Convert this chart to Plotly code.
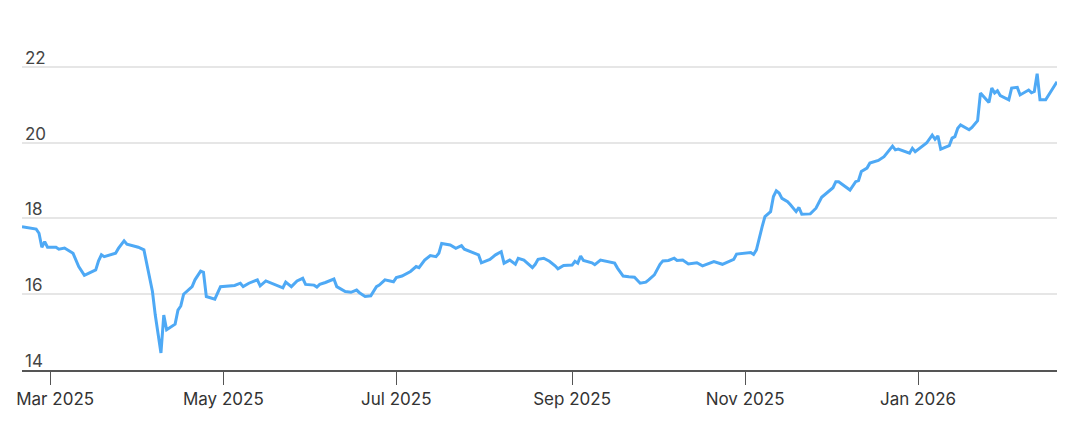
import plotly.graph_objects as go

# daily closes (Feb 2025 - Feb 2026)
dates = [
    "2025-02-19", "2025-02-24", "2025-02-25", "2025-02-26", "2025-02-27", "2025-02-28",
    "2025-03-03", "2025-03-04", "2025-03-06", "2025-03-09", "2025-03-11", "2025-03-13",
    "2025-03-17", "2025-03-18", "2025-03-19", "2025-03-20", "2025-03-24", "2025-03-25",
    "2025-03-27", "2025-03-28", "2025-04-01", "2025-04-03", "2025-04-06", "2025-04-07",
    "2025-04-09", "2025-04-10", "2025-04-11", "2025-04-14", "2025-04-15", "2025-04-16",
    "2025-04-17", "2025-04-20", "2025-04-21", "2025-04-23", "2025-04-24", "2025-04-25",
    "2025-04-28", "2025-04-30", "2025-05-05", "2025-05-07", "2025-05-08", "2025-05-10",
    "2025-05-13", "2025-05-14", "2025-05-16", "2025-05-20", "2025-05-22", "2025-05-23",
    "2025-05-25", "2025-05-27", "2025-05-29", "2025-05-30", "2025-06-02", "2025-06-03",
    "2025-06-04", "2025-06-06", "2025-06-09", "2025-06-10", "2025-06-13", "2025-06-15",
    "2025-06-17", "2025-06-18", "2025-06-20", "2025-06-22", "2025-06-24", "2025-06-25",
    "2025-06-27", "2025-06-30", "2025-07-01", "2025-07-03", "2025-07-06", "2025-07-08",
    "2025-07-09", "2025-07-11", "2025-07-13", "2025-07-15", "2025-07-16", "2025-07-17",
    "2025-07-20", "2025-07-22", "2025-07-24", "2025-07-25", "2025-07-28", "2025-07-30",
    "2025-07-31", "2025-08-03", "2025-08-05", "2025-08-07", "2025-08-08", "2025-08-10",
    "2025-08-12", "2025-08-13", "2025-08-15", "2025-08-18", "2025-08-19", "2025-08-20",
    "2025-08-22", "2025-08-24", "2025-08-26", "2025-08-27", "2025-08-29", "2025-09-01",
    "2025-09-02", "2025-09-03", "2025-09-04", "2025-09-05", "2025-09-08", "2025-09-09",
    "2025-09-11", "2025-09-14", "2025-09-16", "2025-09-17", "2025-09-19", "2025-09-21",
    "2025-09-23", "2025-09-25", "2025-09-27", "2025-09-28", "2025-09-30", "2025-10-02",
    "2025-10-03", "2025-10-05", "2025-10-07", "2025-10-08", "2025-10-10", "2025-10-12",
    "2025-10-15", "2025-10-17", "2025-10-21", "2025-10-24", "2025-10-27", "2025-10-28",
    "2025-10-29", "2025-11-01", "2025-11-03", "2025-11-04", "2025-11-05", "2025-11-07",
    "2025-11-08", "2025-11-10", "2025-11-11", "2025-11-12", "2025-11-13", "2025-11-14",
    "2025-11-16", "2025-11-17", "2025-11-19", "2025-11-20", "2025-11-21", "2025-11-24",
    "2025-11-26", "2025-11-28", "2025-11-30", "2025-12-02", "2025-12-03", "2025-12-04",
    "2025-12-08", "2025-12-10", "2025-12-11", "2025-12-12", "2025-12-14", "2025-12-15",
    "2025-12-18", "2025-12-20", "2025-12-23", "2025-12-24", "2025-12-25", "2025-12-29",
    "2025-12-30", "2025-12-31", "2026-01-04", "2026-01-06", "2026-01-07", "2026-01-08",
    "2026-01-09", "2026-01-12", "2026-01-13", "2026-01-14", "2026-01-15", "2026-01-16",
    "2026-01-19", "2026-01-20", "2026-01-22", "2026-01-23", "2026-01-26", "2026-01-27",
    "2026-01-28", "2026-01-29", "2026-01-30", "2026-02-02", "2026-02-03", "2026-02-05",
    "2026-02-06", "2026-02-09", "2026-02-10", "2026-02-11", "2026-02-12", "2026-02-13",
    "2026-02-15", "2026-02-19",
]
prices = [
    17.78, 17.72, 17.61, 17.24, 17.39, 17.24,
    17.24, 17.19, 17.22, 17.08, 16.73, 16.50,
    16.64, 16.88, 17.04, 16.99, 17.08, 17.21,
    17.41, 17.32, 17.24, 17.17, 16.07, 15.45,
    14.45, 15.45, 15.06, 15.21, 15.58, 15.69,
    16.00, 16.20, 16.38, 16.61, 16.58, 15.94,
    15.87, 16.20, 16.23, 16.29, 16.20, 16.29,
    16.38, 16.22, 16.35, 16.23, 16.17, 16.32,
    16.20, 16.35, 16.42, 16.26, 16.24, 16.19,
    16.26, 16.31, 16.40, 16.20, 16.07, 16.05,
    16.11, 16.04, 15.94, 15.96, 16.20, 16.24,
    16.38, 16.33, 16.44, 16.48, 16.60, 16.73,
    16.70, 16.90, 17.02, 16.99, 17.08, 17.34,
    17.30, 17.21, 17.28, 17.19, 17.10, 17.04,
    16.83, 16.92, 17.04, 17.12, 16.82, 16.90,
    16.79, 16.95, 16.90, 16.70, 16.79, 16.92,
    16.95, 16.87, 16.75, 16.67, 16.76, 16.77,
    16.87, 16.82, 17.01, 16.89, 16.83, 16.78,
    16.90, 16.86, 16.82, 16.69, 16.48, 16.46,
    16.45, 16.29, 16.32, 16.38, 16.51, 16.79,
    16.88, 16.89, 16.95, 16.89, 16.90, 16.80,
    16.83, 16.75, 16.86, 16.79, 16.90, 16.92,
    17.06, 17.08, 17.10, 17.05, 17.17, 17.78,
    18.05, 18.18, 18.58, 18.73, 18.67, 18.53,
    18.44, 18.36, 18.18, 18.29, 18.11, 18.12,
    18.27, 18.56, 18.68, 18.81, 18.97, 18.97,
    18.75, 18.97, 19.00, 19.24, 19.33, 19.46,
    19.53, 19.63, 19.91, 19.81, 19.83, 19.72,
    19.85, 19.76, 19.99, 20.20, 20.09, 20.18,
    19.83, 19.92, 20.12, 20.16, 20.38, 20.47,
    20.34, 20.40, 20.58, 21.31, 21.06, 21.44,
    21.31, 21.37, 21.24, 21.13, 21.44, 21.46,
    21.26, 21.39, 21.32, 21.35, 21.82, 21.13,
    21.13, 21.61,
]

tick_dates = ["2025-03-01", "2025-05-01", "2025-07-01", "2025-09-01", "2025-11-01", "2026-01-01"]
# first label is nudged right a little so it stays clear of the left edge
tick_labels = ["\u00a0" * 2 + "Mar 2025", "May 2025", "Jul 2025", "Sep 2025", "Nov 2025", "Jan 2026"]
y_ticks = [14, 16, 18, 20, 22]

fig = go.Figure()
fig.add_trace(
    go.Scatter(
        x=dates,
        y=prices,
        mode="lines",
        line=dict(color="#4ea9f5", width=3, shape="linear"),
        showlegend=False,
    )
)

# page body has an 8px margin, so the figure is sized to fit inside it
fig.update_layout(
    width=1063,
    height=417,
    margin=dict(l=14, r=14, t=21, b=55),
    paper_bgcolor="white",
    plot_bgcolor="white",
    font=dict(family="Inter, 'Open Sans', sans-serif", size=17, color="#333333"),
    xaxis=dict(
        range=["2025-02-19", "2026-02-19"],
        tickvals=tick_dates,
        ticktext=tick_labels,
        ticklabeloverflow="allow",
        automargin=False,
        showgrid=False,
        showline=True,
        linecolor="#555555",
        linewidth=1.5,
        ticks="outside",
        ticklen=13,
        tickwidth=1.3,
        tickcolor="#555555",
        zeroline=False,
    ),
    yaxis=dict(
        range=[14, 23],
        tickvals=y_ticks,
        ticklabelposition="inside top",
        ticklabelshift=3,
        ticklabeloverflow="allow",
        automargin=False,
        showgrid=True,
        gridcolor="#e6e6e6",
        gridwidth=1.5,
        zeroline=False,
        showline=False,
        ticks="",
    ),
)

fig.write_html("out.html")
